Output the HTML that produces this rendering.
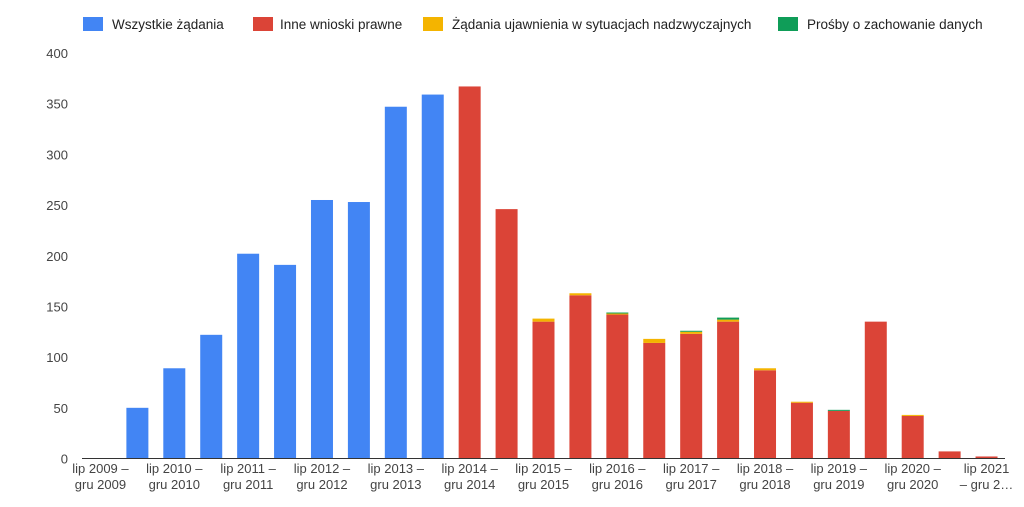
<!DOCTYPE html>
<html><head><meta charset="utf-8"><style>
body{margin:0;background:#fff;font-family:"Liberation Sans",Arial,sans-serif;}
svg text{font-family:"Liberation Sans",Arial,sans-serif;}
</style></head><body>
<svg id="c" width="1024" height="502">
<g id="legend">
<g><rect x="83" y="17" width="20" height="14" fill="#4285f4"/><text x="112" y="29" font-size="13.5" fill="#222">Wszystkie żądania</text></g>
<g><rect x="253" y="17" width="20" height="14" fill="#db4437"/><text x="280" y="29" font-size="13.5" fill="#222">Inne wnioski prawne</text></g>
<g><rect x="423" y="17" width="20" height="14" fill="#f4b400"/><text x="452" y="29" font-size="13.5" fill="#222">Żądania ujawnienia w sytuacjach nadzwyczajnych</text></g>
<g><rect x="778" y="17" width="20" height="14" fill="#0f9d58"/><text x="807" y="29" font-size="13.5" fill="#222">Prośby o zachowanie danych</text></g>
</g>
</svg>
<script>
const categories=["lip 2009 –|gru 2009","sty 2010","lip 2010 –|gru 2010","sty 2011","lip 2011 –|gru 2011","sty 2012","lip 2012 –|gru 2012","sty 2013","lip 2013 –|gru 2013","sty 2014","lip 2014 –|gru 2014","sty 2015","lip 2015 –|gru 2015","sty 2016","lip 2016 –|gru 2016","sty 2017","lip 2017 –|gru 2017","sty 2018","lip 2018 –|gru 2018","sty 2019","lip 2019 –|gru 2019","sty 2020","lip 2020 –|gru 2020","sty 2021","lip 2021|– gru 2…"];
const allRequests=[0,50,89,122,202,191,255,253,347,359,0,0,0,0,0,0,0,0,0,0,0,0,0,0,0];
const otherLegal=[0,0,0,0,0,0,0,0,0,0,367,246,135,161,142,114,123,135,87,55,47,135,42,7,2];
const emergency=[0,0,0,0,0,0,0,0,0,0,0,0,3,2,1,4,2,2,2,1,0,0,1,0,0];
const preservation=[0,0,0,0,0,0,0,0,0,0,0,0,0,0,1,0,1,2,0,0,1,0,0,0,0];
const yTicks=[0,50,100,150,200,250,300,350,400];
const NS="http://www.w3.org/2000/svg";
const svg=document.getElementById('c');
const L=82,R=1005,Y0=458.5,Y400=53;
const band=(R-L)/categories.length,bw=22;
const y=v=>Y0-(Y0-Y400)*v/400;
const xc=i=>L+band*(i+0.5);
function mk(t,a){const e=document.createElementNS(NS,t);for(const k in a)e.setAttribute(k,a[k]);svg.appendChild(e);return e;}
yTicks.forEach(t=>{const e=mk('text',{x:68,y:y(t)+5,'text-anchor':'end','font-size':13,fill:'#444'});e.textContent=t;

});
const series=[[allRequests,'#4285f4','bar-all'],[otherLegal,'#db4437','bar-other'],[emergency,'#f4b400','bar-emergency'],[preservation,'#0f9d58','bar-preservation']];
categories.forEach((c,i)=>{let base=0;series.forEach(([arr,col,nm])=>{const v=arr[i];if(v>0){const r=mk('rect',{x:xc(i)-bw/2,y:y(base+v),width:bw,height:y(base)-y(base+v),fill:col});

base+=v;}});
if(i%2===0){const parts=c.split('|');parts.forEach((p,k)=>{const t=mk('text',{x:xc(i),y:473+k*16,'text-anchor':'middle','font-size':13,fill:'#444'});t.textContent=p;

});}});
const ax=mk('line',{x1:L,x2:R,y1:Y0,y2:Y0,stroke:'#333','stroke-width':1});


</script>
</body></html>
